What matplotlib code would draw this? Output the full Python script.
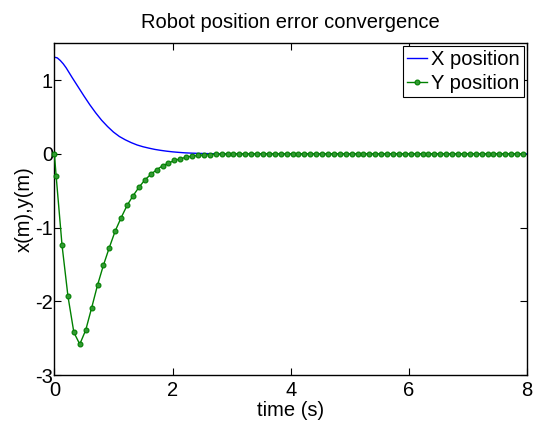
import matplotlib
matplotlib.use("Agg")
import matplotlib.pyplot as plt

plt.rcParams['font.family'] = ['Liberation Sans', 'DejaVu Sans']
plt.rcParams['axes.unicode_minus'] = False

# X position error (smooth curve)
t_x = [0.0, 0.05, 0.1, 0.15, 0.2, 0.3, 0.4, 0.5, 0.6, 0.7, 0.8, 0.9, 1.0,
       1.1, 1.2, 1.3, 1.4, 1.5, 1.6, 1.7, 1.8, 1.9, 2.0, 2.1, 2.2, 2.3, 2.4,
       2.5, 2.6, 2.8, 3.0, 8.0]
x_pos = [1.31, 1.30, 1.265, 1.22, 1.165, 1.035, 0.91, 0.785, 0.665, 0.555,
         0.455, 0.37, 0.295, 0.235, 0.19, 0.152, 0.12, 0.096, 0.077, 0.06,
         0.047, 0.036, 0.027, 0.02, 0.014, 0.01, 0.007, 0.005, 0.003, 0.001,
         0.0, 0.0]

# Y position error (sampled points)
t_y = [0.0, 0.03, 0.13, 0.23, 0.33, 0.43, 0.53, 0.63, 0.73, 0.83, 0.93, 1.03,
       1.13, 1.23, 1.33, 1.43, 1.53, 1.63, 1.73, 1.83, 1.93, 2.03, 2.13, 2.23,
       2.33, 2.43, 2.53, 2.63, 2.73, 2.83, 2.93, 3.03, 3.13, 3.23, 3.33, 3.43,
       3.53, 3.63, 3.73, 3.83, 3.93, 4.03, 4.13, 4.23, 4.33, 4.43, 4.53, 4.63,
       4.73, 4.83, 4.93, 5.03, 5.13, 5.23, 5.33, 5.43, 5.53, 5.63, 5.73, 5.83,
       5.93, 6.03, 6.13, 6.23, 6.33, 6.43, 6.53, 6.63, 6.73, 6.83, 6.93, 7.03,
       7.13, 7.23, 7.33, 7.43, 7.53, 7.63, 7.73, 7.83, 7.93]
y_pos = [0.0, -0.3, -1.24, -1.93, -2.42, -2.58, -2.39, -2.09, -1.78, -1.51,
         -1.27, -1.045, -0.865, -0.70, -0.57, -0.455, -0.355, -0.28, -0.216,
         -0.162, -0.126, -0.09, -0.068, -0.045, -0.032, -0.022, -0.015, -0.01,
         -0.007, -0.005, -0.003, -0.002, -0.001, 0.0, 0.0, 0.0,
         0.0, 0.0, 0.0, 0.0, 0.0, 0.0, 0.0, 0.0, 0.0, 0.0, 0.0, 0.0,
         0.0, 0.0, 0.0, 0.0, 0.0, 0.0, 0.0, 0.0, 0.0, 0.0, 0.0, 0.0,
         0.0, 0.0, 0.0, 0.0, 0.0, 0.0, 0.0, 0.0, 0.0, 0.0, 0.0, 0.0,
         0.0, 0.0, 0.0, 0.0, 0.0, 0.0, 0.0, 0.0, 0.0]

x_ticks = [0, 2, 4, 6, 8]
y_ticks = [-3, -2, -1, 0, 1]

fig = plt.figure(figsize=(5.33, 4.23), dpi=100)
ax = fig.add_axes([0.102, 0.113, 0.887, 0.785])

green = (0.0, 0.5, 0.0)
ax.plot(t_x, x_pos, color='blue', lw=1.0, label='X position')
ax.plot(t_y, y_pos, color=green, lw=1.0, marker='o', markersize=3.5,
        markerfacecolor=(0.2, 0.6, 0.2), markeredgecolor=green,
        markeredgewidth=0.8, label='Y position', clip_on=False, zorder=3)

ax.set_xlim(0, 8)
ax.set_ylim(-3, 1.5)
ax.set_xticks(x_ticks)
ax.set_yticks(y_ticks)
ax.tick_params(direction='in', top=True, right=True, labelsize=14.5, length=5,
               pad=1)
ax.tick_params(axis='x', pad=4)
for s in ax.spines.values():
    s.set_linewidth(1.0)

ax.set_title('Robot position error convergence', fontsize=14.5, pad=11)
ax.set_xlabel('time (s)', fontsize=14.5, labelpad=1)
ax.set_ylabel('x(m),y(m)', fontsize=14.5, labelpad=1)

leg = ax.legend(loc='upper right', fontsize=14.5, handlelength=1.0,
                handletextpad=0.2, borderpad=0.2, labelspacing=0.25,
                borderaxespad=0.15, fancybox=False, framealpha=1)
leg.get_frame().set_edgecolor('black')
leg.get_frame().set_linewidth(0.8)

fig.savefig('out.png', dpi=100)
